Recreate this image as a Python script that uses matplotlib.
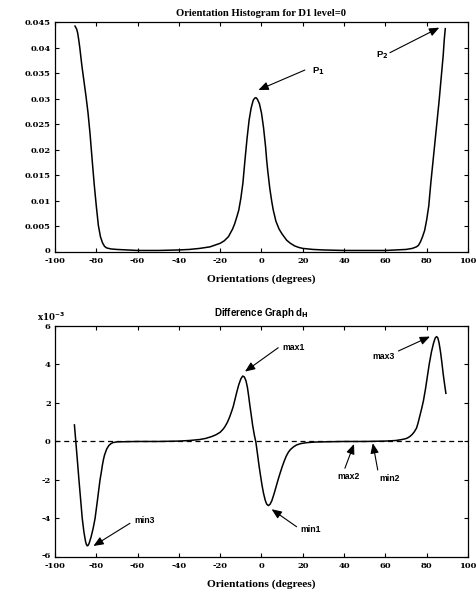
import matplotlib
matplotlib.use("Agg")
import matplotlib.pyplot as plt
from matplotlib.ticker import FuncFormatter
import matplotlib.transforms as mtransforms

plt.rcParams['mathtext.default'] = 'bf'
plt.rcParams['axes.unicode_minus'] = False

# ---- Data: Orientation histogram (top) ----
hist_x = [-90.3, -89.5, -89.0, -88.5, -88.0, -87.0, -86.0, -85.0, -84.0, -83.0,
          -82.0, -81.0, -80.0, -79.0, -78.0, -77.0, -76.0, -75.0, -73.0, -70.0,
          -65.0, -60.0, -50.0, -40.0, -35.0, -30.0, -25.0, -20.0, -18.0, -16.0,
          -14.0, -13.0, -12.0, -11.0, -10.0, -9.0, -8.0, -7.0, -6.0, -5.0,
          -4.0, -3.3, -2.7, -2.0, -1.0, 0.0, 1.0, 2.0, 2.5, 3.0,
          4.0, 5.0, 5.7, 7.0, 8.5, 10.0, 12.2, 14.0, 16.0, 18.0,
          20.0, 25.0, 30.0, 40.0, 50.0, 60.0, 65.0, 70.0, 73.0, 75.0,
          76.0, 77.0, 78.0, 79.0, 80.0, 81.0, 82.0, 83.0, 84.0, 85.0,
          86.0, 87.0, 88.0, 88.5, 89.0]
hist_y = [0.0442, 0.0436, 0.0428, 0.0415, 0.0400, 0.0365, 0.0335, 0.0305, 0.0272, 0.0230,
          0.0180, 0.0132, 0.0090, 0.0052, 0.0030, 0.0018, 0.0011, 0.0008, 0.0006, 0.0005,
          0.0004, 0.0003, 0.0003, 0.0004, 0.0005, 0.0007, 0.0010, 0.0017, 0.0022, 0.0030,
          0.0045, 0.0055, 0.0068, 0.0082, 0.0105, 0.0135, 0.0180, 0.0222, 0.0258, 0.0282,
          0.0297, 0.0301, 0.0302, 0.0299, 0.0290, 0.0272, 0.0243, 0.0205, 0.0180, 0.0160,
          0.0125, 0.0098, 0.0082, 0.0060, 0.0045, 0.0035, 0.0023, 0.0017, 0.0012, 0.0009,
          0.0007, 0.0005, 0.0004, 0.0003, 0.0003, 0.0003, 0.0004, 0.0005, 0.0007, 0.0010,
          0.0013, 0.0020, 0.0030, 0.0042, 0.0063, 0.0090, 0.0135, 0.0175, 0.0215, 0.0255,
          0.0295, 0.0340, 0.0385, 0.0415, 0.0437]

# ---- Data: Difference graph d_H (bottom), units of 1e-3 ----
diff_x = [-90.6, -90.0, -89.5, -89.0, -88.4, -87.6, -86.8, -86.0, -85.2, -84.8,
          -84.4, -84.0, -83.5, -82.5, -81.5, -80.6, -79.5, -78.8, -78.2, -77.5,
          -77.0, -76.5, -76.0, -75.0, -74.0, -73.0, -72.0, -70.0, -60.0, -50.0,
          -40.0, -35.0, -30.0, -27.0, -24.0, -22.0, -20.0, -18.5, -17.7, -16.5,
          -15.5, -14.5, -13.7, -12.8, -12.0, -11.0, -10.0, -9.1, -8.3, -7.5,
          -6.8, -6.2, -5.6, -5.0, -4.3, -3.5, -2.7, -2.0, -1.2, -0.5,
          0.3, 1.0, 1.8, 2.5, 3.3, 4.1, 5.0, 6.0, 7.0, 8.0,
          9.0, 10.0, 11.0, 12.0, 13.0, 14.0, 15.5, 17.0, 19.0, 22.0,
          26.0, 30.0, 40.0, 50.0, 60.0, 65.0, 68.0, 70.0, 71.0, 72.0,
          73.0, 74.0, 75.1, 75.8, 76.5, 77.5, 78.4, 79.5, 80.5, 81.3,
          82.3, 83.3, 84.1, 84.8, 85.4, 86.0, 86.7, 87.3, 88.0, 88.7,
          89.3]
diff_y = [0.86, 0.10, -0.55, -1.20, -2.00, -3.00, -4.00, -4.70, -5.20, -5.35,
          -5.42, -5.40, -5.30, -4.95, -4.50, -4.00, -3.10, -2.50, -2.00, -1.55,
          -1.20, -0.92, -0.70, -0.40, -0.22, -0.12, -0.06, -0.02, 0.00, 0.00,
          0.02, 0.05, 0.10, 0.16, 0.26, 0.35, 0.48, 0.65, 0.77, 1.00,
          1.25, 1.55, 1.81, 2.20, 2.55, 2.95, 3.25, 3.40, 3.35, 3.15,
          2.80, 2.35, 1.85, 1.40, 0.85, 0.35, -0.05, -0.60, -1.25, -1.75,
          -2.30, -2.70, -3.05, -3.25, -3.33, -3.27, -3.08, -2.75, -2.38, -2.00,
          -1.65, -1.32, -1.02, -0.76, -0.56, -0.42, -0.28, -0.18, -0.11, -0.06,
          -0.03, -0.02, 0.00, 0.00, 0.02, 0.05, 0.10, 0.15, 0.20, 0.27,
          0.37, 0.50, 0.70, 0.95, 1.25, 1.68, 2.10, 2.78, 3.50, 4.06,
          4.65, 5.10, 5.37, 5.45, 5.38, 5.12, 4.65, 4.15, 3.50, 2.95,
          2.50]

x_ticks = [-100, -80, -60, -40, -20, 0, 20, 40, 60, 80, 100]
hist_yticks = [0, 0.005, 0.01, 0.015, 0.02, 0.025, 0.03, 0.035, 0.04, 0.045]
diff_yticks = [-6, -4, -2, 0, 2, 4, 6]

SERIF = 'Liberation Serif'
TICKFONT = 'DejaVu Serif'
SANS = 'Liberation Sans'
TICKFS = 6

fig = plt.figure(figsize=(4.77, 5.98), dpi=100)
ax1 = fig.add_axes([0.1153, 0.5786, 0.8658, 0.3846])
ax2 = fig.add_axes([0.1153, 0.0686, 0.8658, 0.3863])


def style(ax):
    ax.tick_params(direction='in', length=3, width=0.8, top=True, right=True,
                   labelsize=TICKFS)
    ax.tick_params(axis='y', pad=3)
    ax.tick_params(axis='x', pad=3.5)
    for lab in ax.get_xticklabels() + ax.get_yticklabels():
        lab.set_fontfamily(TICKFONT)
        lab.set_fontweight('bold')
    # lift the lowest y label a touch so it sits just above the x labels
    lowest = ax.get_yticklabels()[0]
    lowest.set_transform(lowest.get_transform() +
                         mtransforms.ScaledTranslation(0, 2 / 100, fig.dpi_scale_trans))
    for s in ax.spines.values():
        s.set_linewidth(0.9)


# Top plot
ax1.plot(hist_x, hist_y, color='black', lw=1.1)
ax1.set_xlim(-100, 100)
ax1.set_ylim(0, 0.045)
ax1.set_xticks(x_ticks)
ax1.set_yticks(hist_yticks)
ax1.yaxis.set_major_formatter(FuncFormatter(lambda v, p: '%g' % v))
style(ax1)
ax1.set_title('Orientation Histogram for D1 level=0', fontfamily=SERIF,
              fontweight='bold', fontsize=7.7, pad=4)
ax1.set_xlabel('Orientations (degrees)', fontfamily=SERIF, fontweight='bold',
               fontsize=8.2, labelpad=7)

arrow = dict(arrowstyle='-|>,head_length=0.6,head_width=0.25', color='black',
             lw=0.8, shrinkA=0, shrinkB=0)
ax1.annotate('', xy=(-1.5, 0.0317), xytext=(21.0, 0.0356), arrowprops=arrow)
ax1.text(24.5, 0.0354, r'P$_1$', fontfamily=SANS, fontweight='bold',
         fontsize=6.8, ha='left', va='center')
ax1.annotate('', xy=(86.1, 0.0439), xytext=(62.2, 0.0390), arrowprops=arrow)
ax1.text(61.5, 0.0385, r'P$_2$', fontfamily=SANS, fontweight='bold',
         fontsize=6.8, ha='right', va='center')

# Bottom plot
ax2.axhline(0, color='black', lw=0.9, ls=(0, (4, 3)))
ax2.plot(diff_x, diff_y, color='black', lw=1.1)
ax2.set_xlim(-100, 100)
ax2.set_ylim(-6, 6)
ax2.set_xticks(x_ticks)
ax2.set_yticks(diff_yticks)
style(ax2)
ax2.set_title(r'Difference Graph d$_H$', fontfamily=SANS, fontweight='bold',
              fontsize=7, pad=7)
ax2.set_xlabel('Orientations (degrees)', fontfamily=SERIF, fontweight='bold',
               fontsize=8.2, labelpad=7)
ax2.text(-0.044, 1.015, r'x10$^{-3}$', transform=ax2.transAxes, fontfamily=TICKFONT,
         fontweight='bold', fontsize=6.2, ha='left', va='bottom')

lab_kw = dict(fontfamily=SANS, fontweight='bold', fontsize=6.3)
ax2.annotate('', xy=(-8.0, 3.63), xytext=(8.1, 4.87), arrowprops=arrow)
ax2.text(10.0, 4.88, 'max1', ha='left', va='center', **lab_kw)
ax2.annotate('', xy=(81.6, 5.45), xytext=(66.3, 4.7), arrowprops=arrow)
ax2.text(64.5, 4.44, 'max3', ha='right', va='center', **lab_kw)
ax2.annotate('', xy=(-81.4, -5.43), xytext=(-63.7, -4.25), arrowprops=arrow)
ax2.text(-61.5, -4.08, 'min3', ha='left', va='center', **lab_kw)
ax2.annotate('', xy=(4.9, -3.52), xytext=(17.0, -4.43), arrowprops=arrow)
ax2.text(19.0, -4.55, 'min1', ha='left', va='center', **lab_kw)
ax2.annotate('', xy=(44.8, -0.13), xytext=(40.4, -1.39), arrowprops=arrow)
ax2.text(42.0, -1.83, 'max2', ha='center', va='center', **lab_kw)
ax2.annotate('', xy=(53.9, -0.09), xytext=(56.3, -1.48), arrowprops=arrow)
ax2.text(62.0, -1.9, 'min2', ha='center', va='center', **lab_kw)

fig.savefig('out.png', dpi=100)
